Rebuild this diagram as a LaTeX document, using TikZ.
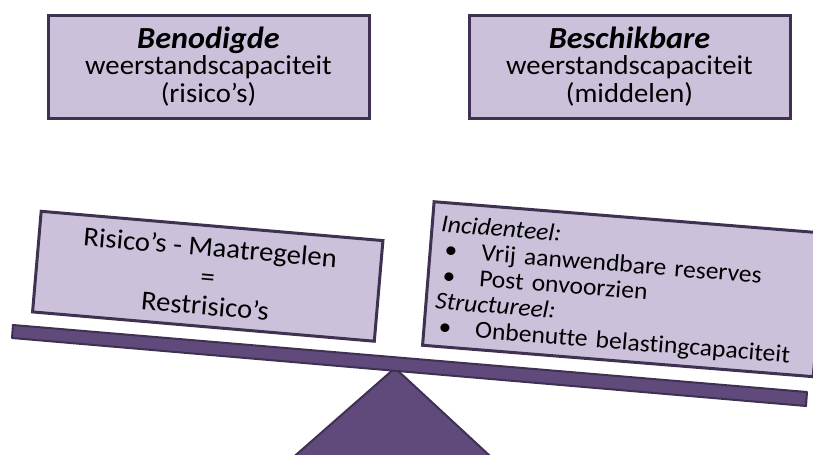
\documentclass[tikz,border=0pt]{standalone}
\usepackage{fontspec}
\setmainfont{Carlito}[Ligatures={NoCommon}, FakeStretch=1.05]
\definecolor{boxfill}{RGB}{204,193,218}
\definecolor{boxline}{RGB}{63,49,81}
\definecolor{beamfill}{RGB}{96,74,123}
\tikzset{every picture/.style={line width=0.75pt}}
\tikzset{
  kaderbox/.style={draw=boxline, fill=boxfill, line width=2.25pt, align=center, inner sep=4pt},
  weegbalk/.style={draw=boxline, fill=beamfill, line width=1.5pt, line join=round}
}
\newcommand{\kop}[1]{{\fontsize{23}{20}\selectfont\textbf{\textit{#1}}}}
\newcommand{\punt}{\hspace*{4pt}\textbullet\hspace{18pt}}

\begin{document}
\begin{tikzpicture}[x=0.75pt,y=0.75pt,yscale=-1,xscale=1]
    \clip (0,0) rectangle (813,454);
    % Top boxes
    \node[kaderbox, minimum width=240.75pt, minimum height=77.25pt, font=\fontsize{20.5}{20}\selectfont] (benodigd) at (208.5,66.5) {\kop{Benodigde}\\weerstandscapaciteit\\[1pt](risico’s)};
    \node[kaderbox, minimum width=240.75pt, minimum height=77.25pt, font=\fontsize{20.5}{20}\selectfont] (beschikbaar) at (629.5,66.5) {\kop{Beschikbare}\\weerstandscapaciteit\\[1pt](middelen)};
    % Pivot
    \draw[weegbalk] (395,368) -- (503,468) -- (281,468) -- cycle;
    % Beam
    \draw[weegbalk] (13,325) -- (807,392) -- (806,406) -- (12,338) -- cycle;
    % Left load
    \node[kaderbox, rotate=-4.9, minimum width=257.25pt, minimum height=75.75pt, font=\fontsize{20.5}{22}\selectfont] (risicos) at (207.75,276.25) {Risico’s - Maatregelen\\=\\Restrisico’s};
    % Right load
    \node[kaderbox, rotate=-4.6, minimum width=294pt, minimum height=108pt] (middelen) at (623.7,289.2) {};
    \node[rotate=-4.6, align=left, text width=280pt, font=\fontsize{18.3}{19.3}\selectfont] (middelentekst) at ([shift={(-0.3,2.5)}]middelen.center) {\textit{Incidenteel:}\\
      \punt Vrij aanwendbare reserves\\
      \punt Post onvoorzien\\
      \textit{Structureel:}\\
      \punt Onbenutte belastingcapaciteit};
\end{tikzpicture}
\end{document}
